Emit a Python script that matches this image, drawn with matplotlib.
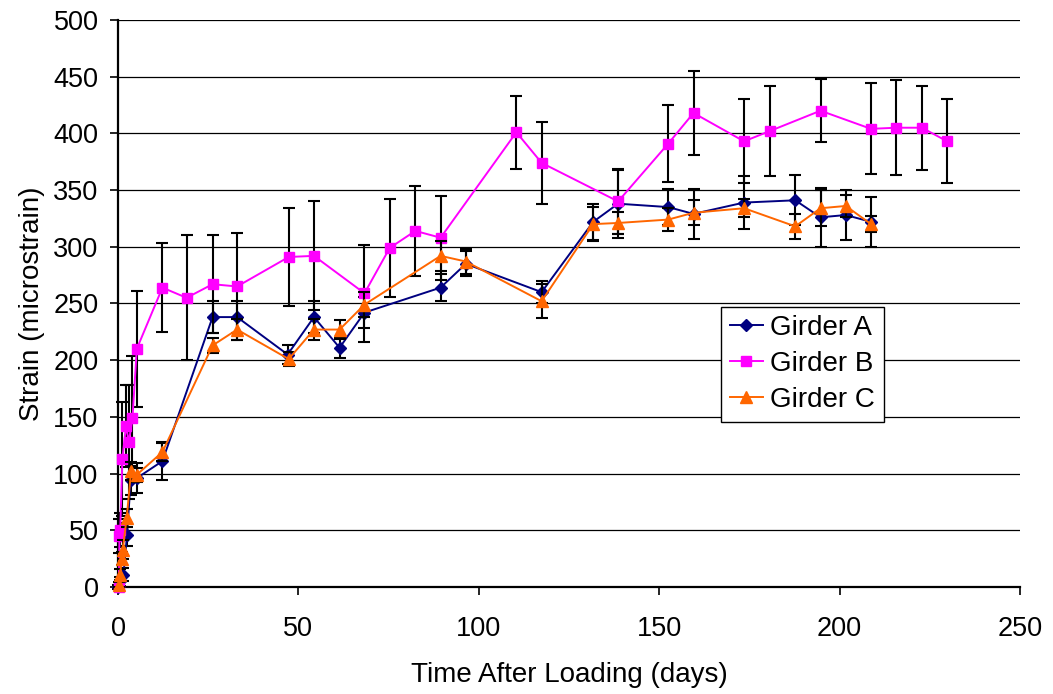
import matplotlib
matplotlib.use("Agg")
import matplotlib.pyplot as plt

plt.rcParams.update({
    "font.family": ["Liberation Sans", "DejaVu Sans"],
    "font.size": 20,
    "xtick.labelsize": 19.5,
    "ytick.labelsize": 19.5,
})

# strain readings per girder: day, mean strain, error half-width
days_a = [0, 0.5, 1.5, 2.5, 3.5, 5.2, 12.3, 26.2, 33, 47, 54.3, 61.4, 68.3, 89.4, 96.4,
          117.4, 131.7, 138.6, 152.5, 159.5, 173.5, 187.7, 194.7, 201.7, 208.7]
strain_a = [0, 5, 11, 46, 94, 96, 111, 238, 238, 205, 238, 211, 242, 264, 285,
            260, 322, 338, 335, 329, 339, 341, 326, 328, 322]
err_a = [2, 4, 6, 10, 13, 13, 17, 14, 14, 8, 14, 9, 14, 12, 11,
         10, 16, 30, 16, 22, 23, 22, 26, 22, 22]

days_b = [0.2, 0.4, 0.6, 1.2, 2.2, 3.0, 4.0, 5.2, 12.3, 19, 26.2, 33, 47.3, 54.3, 68.3,
          75.3, 82.4, 89.4, 110.4, 117.4, 138.6, 152.5, 159.5, 173.5, 180.6, 194.7,
          208.7, 215.7, 222.8, 229.8]
strain_b = [0, 45, 50, 113, 142, 128, 149, 210, 264, 255, 267, 265, 291, 292, 259,
            299, 314, 308, 401, 374, 340, 391, 418, 393, 402, 420,
            404, 405, 405, 393]
err_b = [2, 15, 15, 50, 36, 50, 55, 51, 39, 55, 43, 47, 43, 48, 43,
         43, 40, 37, 32, 36, 29, 34, 37, 37, 40, 28,
         40, 42, 37, 37]

days_c = [0.2, 0.6, 1.0, 1.3, 2.4, 3.6, 5.2, 12.3, 26.2, 33, 47.3, 54.3, 61.4, 68.3, 89.4,
          96.4, 117.4, 131.7, 138.6, 152.5, 159.5, 173.5, 187.7, 194.7, 201.7, 208.7]
strain_c = [2, 11, 25, 33, 61, 102, 99, 119, 213, 227, 201, 227, 227, 249, 292,
            287, 252, 320, 321, 324, 330, 334, 318, 334, 336, 320]
err_c = [2, 5, 6, 8, 8, 8, 6, 8, 7, 9, 6, 9, 8, 11, 13,
         11, 15, 15, 10, 10, 11, 8, 11, 16, 10, 7]

fig = plt.figure(figsize=(10.53, 6.94), dpi=100)
ax = fig.add_axes([0.1121, 0.1542, 0.8566, 0.817])

series = [
    (days_a, strain_a, err_a, "Girder A", "#000080", "D", 6),
    (days_b, strain_b, err_b, "Girder B", "#FF00FF", "s", 7.5),
    (days_c, strain_c, err_c, "Girder C", "#FF6600", "^", 8.5),
]
for i, (x, y, e, lab, col, mk, ms) in enumerate(series):
    ax.errorbar(x, y, yerr=e, fmt="none", ecolor="black", elinewidth=1.5,
                capsize=4, capthick=1.5, zorder=3 + 2 * i, clip_on=False)
    ax.plot(x, y, color=col, marker=mk, markersize=ms, linewidth=1.4,
            label=lab, zorder=4 + 2 * i, clip_on=False)

ax.set_xlim(0, 250)
ax.set_ylim(0, 500)
ax.set_xticks(range(0, 251, 50))
ax.set_yticks(range(0, 501, 50))
ax.yaxis.grid(True, color="black", linewidth=0.9)
ax.set_axisbelow(True)
for s in ["top", "right"]:
    ax.spines[s].set_visible(False)
for s in ["left", "bottom"]:
    ax.spines[s].set_linewidth(1.6)
ax.tick_params(axis="y", direction="out", length=6, width=1.2, pad=8)
ax.tick_params(axis="x", direction="out", length=6, width=1.2, pad=15)

ax.set_xlabel("Time After Loading (days)", labelpad=14)
ax.set_ylabel("Strain (microstrain)", labelpad=6)

leg = ax.legend(loc="upper left", bbox_to_anchor=(0.669, 0.2915, 0.18, 0.2025),
                mode="expand", fancybox=False, framealpha=1, edgecolor="black",
                borderpad=0.3, handlelength=1.2, handletextpad=0.25,
                labelspacing=0.36, borderaxespad=0)
leg.get_frame().set_linewidth(1.0)
leg.set_zorder(20)

fig.savefig("out.png", dpi=100)
